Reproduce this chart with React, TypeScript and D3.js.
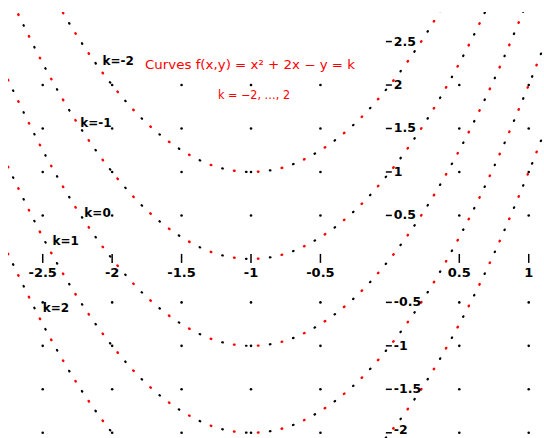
import React from "react";
import * as d3 from "d3";

// ---- data ----
const sampleX = [-2.75, -2.5, -2.25, -2, -1.75, -1.5, -1.25, -1, -0.75, -0.5, -0.25, 0, 0.25, 0.5, 0.75, 1, 1.1];
const curveKm2 = [4.06, 3.25, 2.56, 2, 1.56, 1.25, 1.06, 1, 1.06, 1.25, 1.56, 2, 2.56, 3.25, 4.06, 5, 5.41];
const curveKm1 = [3.06, 2.25, 1.56, 1, 0.56, 0.25, 0.06, 0, 0.06, 0.25, 0.56, 1, 1.56, 2.25, 3.06, 4, 4.41];
const curveK0 = [2.06, 1.25, 0.56, 0, -0.44, -0.75, -0.94, -1, -0.94, -0.75, -0.44, 0, 0.56, 1.25, 2.06, 3, 3.41];
const curveK1 = [1.06, 0.25, -0.44, -1, -1.44, -1.75, -1.94, -2, -1.94, -1.75, -1.44, -1, -0.44, 0.25, 1.06, 2, 2.41];
const curveK2 = [0.06, -0.75, -1.44, -2, -2.44, -2.75, -2.94, -3, -2.94, -2.75, -2.44, -2, -1.44, -0.75, 0.06, 1, 1.41];
const curves = [curveKm2, curveKm1, curveK0, curveK1, curveK2];

const curveLabels = ["k=-2", "k=-1", "k=0", "k=1", "k=2"];
const labelX = [-2.07, -2.23, -2.2, -2.43, -2.5];
const labelY = [2.28, 1.56, 0.53, 0.21, -0.56];

const xTicks = [-2.5, -2, -1.5, -1, -0.5, 0.5, 1];
const yTicks = [2.5, 2, 1.5, 1, 0.5, -0.5, -1, -1.5, -2];
const gridX = [-2.5, -2, -1.5, -1, -0.5, 0.5, 1];
const gridY = [2, 1.5, 1, 0.5, -0.5, -1, -1.5, -2];

const titleLine1 = "Curves f(x,y) = x² + 2x − y = k";
const titleLine2 = "k = −2, …, 2";

const W = 544;
const H = 438;

export default function App() {
  const x = d3.scaleLinear().domain([-2.75, 1.11]).range([8, 544]);
  const y = d3.scaleLinear().domain([-2.06, 2.84]).range([438, 12]);

  const line = d3
    .line<[number, number]>()
    .x((d) => x(d[0]))
    .y((d) => y(d[1]))
    .curve(d3.curveCatmullRom.alpha(0.5));

  const fmt = (v: number) => String(v);
  const font = "'DejaVu Sans', Verdana, sans-serif";

  return (
    <svg
      width={W}
      height={H}
      style={{ position: "absolute", left: 0, top: 0, background: "#fff" }}
      fontFamily={font}
    >
      <defs>
        <clipPath id="plotClip">
          <rect x={8} y={12} width={536} height={426} />
        </clipPath>
      </defs>

      {/* grid dots */}
      <g fill="#000">
        {gridX.map((gx) =>
          gridY.map((gy) => (
            <circle key={`${gx}_${gy}`} cx={x(gx)} cy={y(gy)} r={1.3} />
          ))
        )}
      </g>

      {/* curves as alternating red / black dots */}
      <g clipPath="url(#plotClip)" fill="none" strokeLinecap="round">
        {curves.map((vals, i) => {
          const pts = sampleX.map((sx, j) => [sx, vals[j]] as [number, number]);
          const d = line(pts) || "";
          return (
            <g key={i}>
              <path d={d} stroke="#ff0000" strokeWidth={2.4} strokeDasharray="0.6 23.4" strokeDashoffset={0} />
              <path d={d} stroke="#000" strokeWidth={2.2} strokeDasharray="0.6 23.4" strokeDashoffset={-12} />
            </g>
          );
        })}
      </g>

      {/* x axis ticks */}
      <g>
        {xTicks.map((t) => (
          <g key={t}>
            <line x1={x(t)} x2={x(t)} y1={y(0) - 5} y2={y(0) + 4} stroke="#000" strokeWidth={1.5} />
            <text x={x(t)} y={y(0) + 18} textAnchor="middle" fontSize={13} fontWeight="bold" fill="#000">
              {fmt(t)}
            </text>
          </g>
        ))}
      </g>

      {/* y axis ticks */}
      <g>
        {yTicks.map((t) => (
          <g key={t}>
            <line x1={x(0) - 4} x2={x(0) + 2} y1={y(t)} y2={y(t)} stroke="#000" strokeWidth={1.5} />
            <text
              x={x(0) + 4}
              y={Math.min(y(t) + 4, H - 4)}
              textAnchor="start"
              fontSize={12.5}
              fontWeight="bold"
              fill="#000"
            >
              {fmt(t)}
            </text>
          </g>
        ))}
      </g>

      {/* curve labels */}
      <g>
        {curveLabels.map((lab, i) => (
          <text
            key={lab}
            x={x(labelX[i])}
            y={y(labelY[i]) + 4}
            fontSize={12}
            fontWeight="bold"
            fill="#000"
          >
            {lab}
          </text>
        ))}
      </g>

      {/* title */}
      <text
        x={145}
        y={69}
        fontSize={12}
        fill="#ff0000"
        textLength={210}
        lengthAdjust="spacingAndGlyphs"
      >
        {titleLine1}
      </text>
      <text
        x={218}
        y={99}
        fontSize={12}
        fill="#ff0000"
        textLength={72}
        lengthAdjust="spacingAndGlyphs"
      >
        {titleLine2}
      </text>
    </svg>
  );
}
